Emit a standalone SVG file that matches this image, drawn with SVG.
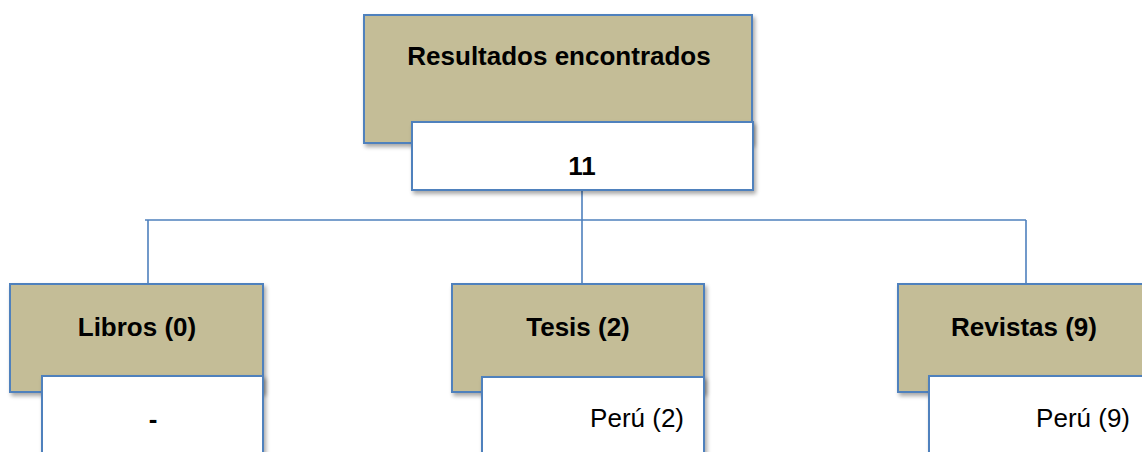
<svg xmlns="http://www.w3.org/2000/svg" width="1142" height="452" viewBox="0 0 1142 452">
<style>
.tan{fill:#c4bd97;stroke:#4f81bd;stroke-width:2}
.wht{fill:#ffffff;stroke:#4f81bd;stroke-width:2}
.lbl{font-family:"Liberation Sans",Arial,sans-serif;font-size:26px;fill:#000}
.b{font-weight:bold}
.conn{fill:none;stroke:#4f81bd;stroke-width:1.6}
</style>
<defs>
<filter id="sh" x="-10%" y="-10%" width="130%" height="140%">
<feGaussianBlur in="SourceAlpha" stdDeviation="2"/>
<feOffset dx="2" dy="3" result="o"/>
<feComponentTransfer><feFuncA type="linear" slope="0.35"/></feComponentTransfer>
<feMerge><feMergeNode/><feMergeNode in="SourceGraphic"/></feMerge>
</filter>
</defs>
<rect width="1142" height="452" fill="#ffffff"/>
<g id="connectors">
<path class="conn" d="M582 190 V220 M145 220 H1026 M148 220 V284 M582 220 V284 M1026 220 V284"/>
</g>
<g id="node-resultados">
<rect class="tan" x="364" y="15" width="388" height="128" filter="url(#sh)"/>
<text class="lbl b" x="559" y="65" text-anchor="middle">Resultados encontrados</text>
<rect class="wht" x="412" y="122" width="341" height="68" filter="url(#sh)"/>
<text class="lbl b" x="582" y="175" text-anchor="middle">11</text>
</g>
<g id="node-libros">
<rect class="tan" x="10" y="284" width="253" height="108" filter="url(#sh)"/>
<text class="lbl b" x="137" y="336" text-anchor="middle">Libros (0)</text>
<rect class="wht" x="42" y="376" width="221" height="90" filter="url(#sh)"/>
<text class="lbl b" x="153" y="428" text-anchor="middle">-</text>
</g>
<g id="node-tesis">
<rect class="tan" x="452" y="284" width="252" height="108" filter="url(#sh)"/>
<text class="lbl b" x="578" y="336" text-anchor="middle">Tesis (2)</text>
<rect class="wht" x="482" y="377" width="222" height="90" filter="url(#sh)"/>
<text class="lbl" x="684" y="427" text-anchor="end">Perú (2)</text>
</g>
<g id="node-revistas">
<rect class="tan" x="898" y="284" width="252" height="108" filter="url(#sh)"/>
<text class="lbl b" x="1024" y="336" text-anchor="middle">Revistas (9)</text>
<rect class="wht" x="929" y="376" width="222" height="90" filter="url(#sh)"/>
<text class="lbl" x="1130" y="427" text-anchor="end">Perú (9)</text>
</g>
</svg>
